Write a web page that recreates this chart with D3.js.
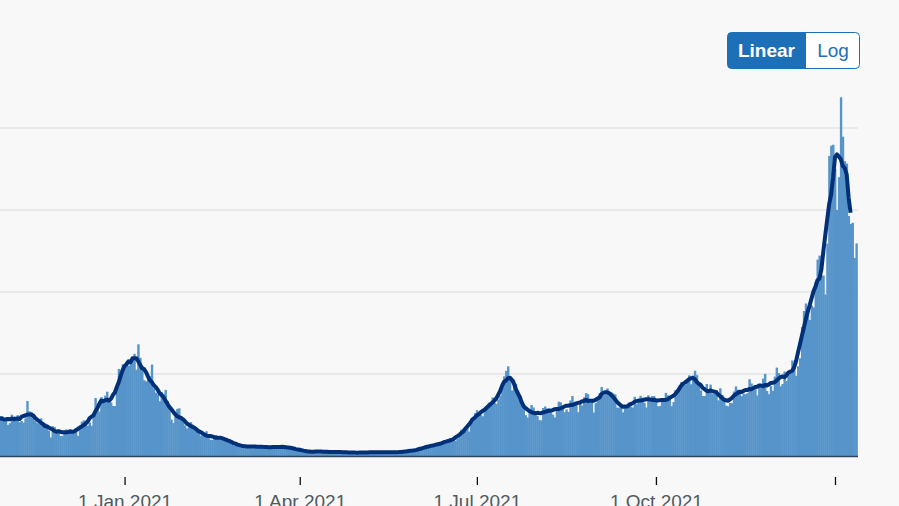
<!DOCTYPE html>
<html>
<head>
<meta charset="utf-8">
<script src="https://cdn.jsdelivr.net/npm/d3@7"></script>
<style>
  html, body { margin: 0; padding: 0; background: #f8f8f8; }
  svg { display: block; font-family: "Liberation Sans", Arial, sans-serif; }
</style>
</head>
<body>
<svg id="chart" width="899" height="506"></svg>
<script>
// Daily UK cases (thousands), by month
const cases2020Oct = [20.5, 23.0, 19.8, 20.9, 22.9, 24.7, 23.1, 24.4, 21.9]; // from 23 Oct
const cases2020Nov = [23.3, 18.9, 20.0, 25.2, 24.1, 23.3, 24.9, 20.6, 21.4, 20.4, 22.9, 33.5, 27.3, 26.9, 24.9, 21.4, 20.1, 19.6, 22.9, 20.3, 19.9, 18.7, 15.5, 11.3, 18.2, 17.6, 16.0, 15.9, 12.2, 12.3];
const cases2020Dec = [13.4, 16.2, 14.9, 16.3, 15.5, 13.7, 14.7, 12.3, 16.6, 20.9, 21.7, 21.5, 18.4, 20.3, 18.5, 25.2, 35.4, 28.5, 27.1, 35.9, 33.4, 36.8, 39.2, 32.7, 32.7, 30.5, 30.5, 41.4, 53.1, 50.0, 55.9];
const cases2021Jan = [53.3, 57.7, 54.9, 58.8, 60.9, 62.3, 52.6, 68.1, 59.9, 54.9, 46.2, 45.5, 47.5, 48.7, 55.8, 41.3, 38.6, 37.5, 33.4, 38.9, 37.9, 40.3, 33.6, 30.0, 22.2, 20.1, 25.3, 28.7, 29.1, 23.3, 21.1];
const cases2021Feb = [18.6, 16.8, 19.2, 20.6, 19.1, 18.3, 15.8, 14.1, 12.4, 13.0, 13.5, 15.1, 13.3, 10.0, 9.8, 10.6, 12.7, 12.1, 12.0, 10.4, 9.8, 10.6, 8.5, 9.9, 9.0, 8.5, 7.4, 6.0];
const cases2021Mar = [5.5, 6.4, 6.0, 6.6, 6.1, 6.0, 5.2, 4.7, 5.8, 6.0, 6.6, 6.0, 5.5, 4.6, 5.1, 5.3, 5.8, 6.3, 4.8, 5.6, 5.3, 5.3, 5.4, 5.6, 6.4, 5.9, 4.7, 3.9, 4.7, 4.1, 4.1];
const cases2021Apr = [4.5, 3.4, 3.4, 2.3, 2.8, 2.4, 2.6, 2.7, 3.2, 2.6, 1.7, 3.6, 2.5, 2.5, 2.7, 3.0, 2.0, 1.9, 2.5, 2.5, 2.4, 2.7, 2.6, 2.3, 1.7, 2.1, 1.9, 2.2, 2.6, 2.4];
const cases2021May = [2.0, 1.6, 1.7, 1.9, 2.6, 2.5, 2.5, 2.0, 1.8, 2.4, 2.3, 2.3, 2.7, 2.2, 2.0, 1.9, 2.4, 2.2, 2.7, 2.9, 2.1, 2.3, 1.8, 2.4, 2.4, 3.2, 3.5, 3.5, 3.4, 3.2, 3.2];
const cases2021Jun = [3.2, 4.3, 5.3, 6.2, 5.8, 5.3, 5.7, 6.0, 6.0, 7.4, 8.1, 7.7, 7.5, 7.7, 7.7, 9.1, 11.0, 10.5, 10.3, 9.3, 10.6, 11.6, 16.1, 16.7, 15.8, 18.3, 14.9, 22.9, 20.5, 26.1];
const cases2021Jul = [27.9, 27.1, 24.9, 24.2, 27.3, 28.8, 32.5, 32.6, 35.7, 32.4, 31.8, 34.5, 36.7, 42.3, 48.6, 51.9, 54.7, 48.2, 39.9, 46.6, 44.1, 39.9, 36.4, 31.8, 29.2, 24.9, 23.5, 27.7, 31.1, 29.6, 26.1];
const cases2021Aug = [24.5, 21.9, 21.7, 29.3, 30.2, 29.0, 29.1, 26.6, 25.2, 23.5, 29.6, 33.1, 32.7, 29.5, 26.8, 28.4, 26.9, 33.9, 36.6, 32.7, 32.1, 26.7, 31.9, 30.8, 35.8, 38.3, 37.7, 32.4, 33.2, 26.5, 32.2];
const cases2021Sep = [35.7, 38.2, 42.1, 37.0, 37.6, 41.2, 37.5, 38.9, 38.1, 37.6, 29.5, 29.5, 30.8, 26.6, 30.6, 30.6, 32.7, 30.1, 29.6, 36.1, 31.6, 34.5, 36.7, 35.6, 32.4, 29.6, 37.0, 34.5, 36.5, 36.5];
const cases2021Oct = [35.0, 30.3, 30.4, 33.9, 33.9, 38.5, 37.0, 35.1, 30.4, 32.9, 40.2, 38.5, 42.8, 45.1, 44.9, 43.4, 45.1, 49.2, 43.7, 49.1, 52.0, 49.3, 44.9, 39.9, 36.6, 36.6, 43.9, 39.8, 43.5, 38.0, 38.0];
const cases2021Nov = [40.1, 33.9, 41.3, 37.3, 34.0, 30.7, 30.3, 32.3, 32.2, 39.3, 42.4, 40.4, 40.2, 36.5, 38.0, 37.7, 38.3, 46.8, 44.2, 40.0, 40.9, 36.9, 42.5, 43.7, 47.2, 50.1, 39.6, 37.7, 42.6, 39.7];
const cases2021Dec = [48.4, 53.9, 50.6, 42.5, 43.9, 51.5, 45.7, 51.3, 50.9, 58.2, 54.1, 48.9, 54.7, 59.6, 78.6, 88.4, 93.0, 90.4, 82.9, 91.7, 90.6, 106.1, 119.8, 122.2, 110.0, 110.0, 98.5, 129.5, 183.0, 189.2, 189.8];
const cases2022Jan = [175.0, 150.0, 170.0, 218.7, 194.7, 179.8, 178.3, 146.4, 141.5, 142.2, 120.8, 129.6];

const monthStarts = [
  ["2020-10-23", cases2020Oct], ["2020-11-01", cases2020Nov], ["2020-12-01", cases2020Dec],
  ["2021-01-01", cases2021Jan], ["2021-02-01", cases2021Feb], ["2021-03-01", cases2021Mar],
  ["2021-04-01", cases2021Apr], ["2021-05-01", cases2021May], ["2021-06-01", cases2021Jun],
  ["2021-07-01", cases2021Jul], ["2021-08-01", cases2021Aug], ["2021-09-01", cases2021Sep],
  ["2021-10-01", cases2021Oct], ["2021-11-01", cases2021Nov], ["2021-12-01", cases2021Dec],
  ["2022-01-01", cases2022Jan]
];

const yTicks = [50, 100, 150, 200];
const tickDates = ["2021-01-01", "2021-04-01", "2021-07-01", "2021-10-01", "2022-01-01"];
const tickLabels = ["1 Jan 2021", "1 Apr 2021", "1 Jul 2021", "1 Oct 2021", ""];
const buttonLabels = ["Linear", "Log"];

// ---- build data
const parse = d3.utcParse("%Y-%m-%d");
const daily = [];
monthStarts.forEach(([s, arr]) => {
  const start = parse(s);
  arr.forEach((v, i) => daily.push({ date: d3.utcDay.offset(start, i), value: v }));
});
// centred 7-day rolling average
const avg = [];
for (let i = 3; i < daily.length - 3; i++) {
  avg.push({ date: daily[i].date, value: d3.mean(daily.slice(i - 3, i + 4), d => d.value) });
}

const svg = d3.select("#chart");
const x = d3.scaleUtc().domain([parse("2020-10-29"), parse("2022-01-01")]).range([0, 835]);
const y = d3.scaleLinear().domain([0, 200]).range([456, 128]);
const plotRight = 858;

svg.append("rect").attr("width", 899).attr("height", 506).attr("fill", "#f8f8f8");

// gridlines
svg.append("g").selectAll("line").data(yTicks).join("line")
  .attr("x1", 0).attr("x2", plotRight)
  .attr("y1", d => y(d)).attr("y2", d => y(d))
  .attr("stroke", "#e5e5e5").attr("stroke-width", 1.5);

// bars (slight overlap to avoid seams)
const step = x(parse("2021-01-02")) - x(parse("2021-01-01"));
svg.append("g").selectAll("rect").data(daily).join("rect")
  .attr("x", d => x(d.date) - step / 2)
  .attr("width", step + 0.45)
  .attr("y", d => y(d.value))
  .attr("height", d => y(0) - y(d.value))
  .attr("fill", "#5694ca");

// average line
svg.append("path").datum(avg)
  .attr("fill", "none")
  .attr("stroke", "#003078")
  .attr("stroke-width", 4)
  .attr("stroke-linejoin", "round")
  .attr("stroke-linecap", "butt")
  .attr("d", d3.line().x(d => x(d.date)).y(d => y(d.value)));

// baseline
svg.append("line")
  .attr("x1", 0).attr("x2", plotRight)
  .attr("y1", y(0) + 0.5).attr("y2", y(0) + 0.5)
  .attr("stroke", "#2f4460").attr("stroke-width", 1.5);

// x axis
const xAxis = d3.axisBottom(x)
  .tickValues(tickDates.map(parse))
  .tickSize(8)
  .tickPadding(9.5)
  .tickFormat((d, i) => tickLabels[i]);
const gx = svg.append("g").attr("transform", "translate(0,477)").call(xAxis);
gx.select(".domain").remove();
gx.selectAll(".tick line").attr("stroke", "#0b0c0c").attr("stroke-width", 1.3);
gx.selectAll(".tick text")
  .attr("fill", "#505a5f")
  .style("font-size", "19px")
  .style("font-family", "'Liberation Sans', Arial, sans-serif");

// Linear / Log toggle
const btn = svg.append("g").attr("transform", "translate(727,32)");
btn.append("rect").attr("x", 0.5).attr("y", 0.5).attr("width", 132).attr("height", 36)
  .attr("rx", 4).attr("fill", "#ffffff").attr("stroke", "#1d70b8").attr("stroke-width", 1);
btn.append("path")
  .attr("d", "M4.5,0.5 H79 V36.5 H4.5 Q0.5,36.5 0.5,32.5 V4.5 Q0.5,0.5 4.5,0.5 Z")
  .attr("fill", "#1d70b8");
btn.append("text").attr("x", 39.5).attr("y", 25).attr("text-anchor", "middle")
  .attr("fill", "#ffffff").style("font-weight", "bold").style("font-size", "19px")
  .text(buttonLabels[0]);
btn.append("text").attr("x", 106).attr("y", 25).attr("text-anchor", "middle")
  .attr("fill", "#1d70b8").style("font-size", "19px")
  .text(buttonLabels[1]);
</script>
</body>
</html>
